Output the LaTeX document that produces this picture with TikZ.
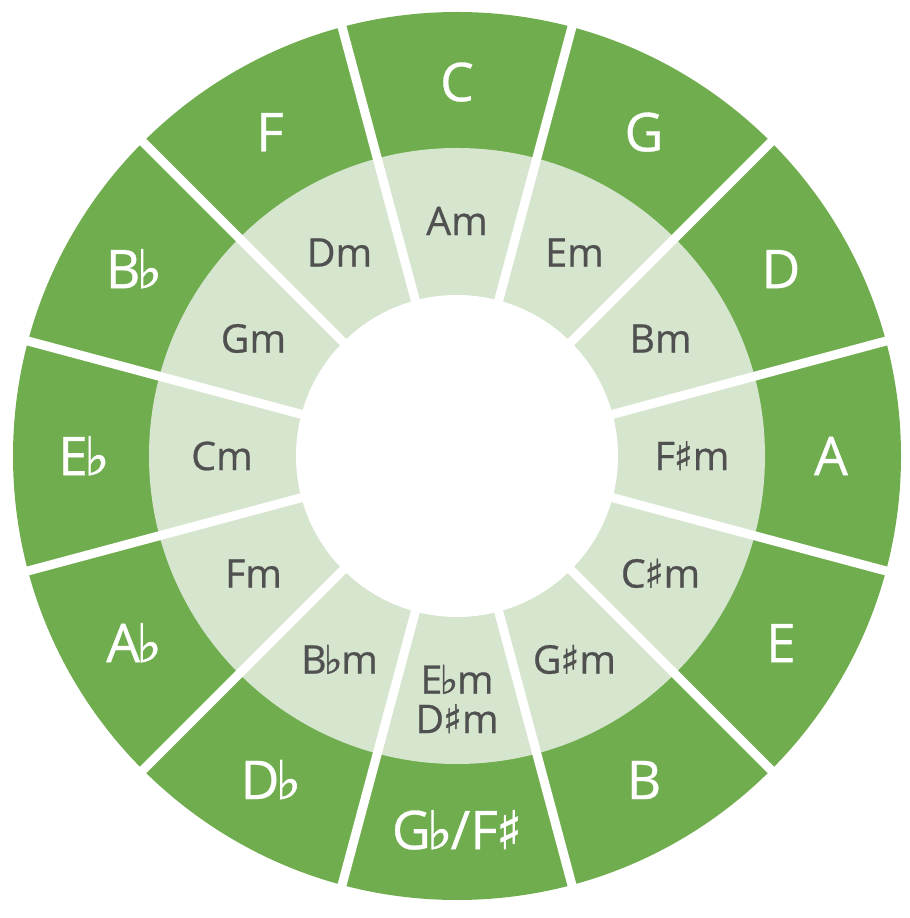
\documentclass[tikz,border=0pt]{standalone}
\usepackage{fontspec}
\usetikzlibrary{calc}
\setmainfont{Open Sans}
\newfontfamily\semifont[FakeBold=0.6]{Open Sans}
\newfontfamily\symfont[FakeBold=1.2]{DejaVu Sans}
\newcommand{\fl}{\kern-0.07em{\symfont\char"266D}\kern-0.03em}
\newcommand{\shp}{\kern-0.03em{\symfont\char"266F}}
\definecolor{outergreen}{HTML}{70AD4F}
\definecolor{innergreen}{HTML}{D6E5CD}
\definecolor{labelgray}{HTML}{505050}
\tikzset{
  outerlabel/.style={text=white, font=\semifont\fontsize{15.2}{15.2}\selectfont, inner sep=0pt, text height=10.9pt, text depth=0pt},
  innerlabel/.style={text=labelgray, font=\semifont\fontsize{11.2}{11.2}\selectfont, inner sep=0pt, text height=8pt, text depth=0pt},
  separator/.style={white, line width=0.09cm}
}
\begin{document}
\begin{tikzpicture}
\useasboundingbox (0,0) rectangle (9.10,9.18);
\coordinate (c) at (4.57,4.62);
\fill[outergreen] (c) circle[radius=4.44];
\fill[innergreen] (c) circle[radius=3.08];
\fill[white] (c) circle[radius=1.61];
\foreach \i in {0,...,11}{
  \draw[separator] ($(c)+({105-30*\i}:1.5)$) -- ($(c)+({105-30*\i}:4.5)$);
}
\foreach \lab [count=\i from 0] in {C,G,D,A,E,B,{G\fl/F\shp},D\fl,A\fl,E\fl,B\fl,F}{
  \node[outerlabel] (o\i) at ($(c)+({90-30*\i}:3.74)$) {\lab};
}
\foreach \i/\lab in {0/Am,1/Em,2/Bm,3/F\shp m,4/C\shp m,5/G\shp m,7/B\fl m,8/Fm,9/Cm,10/Gm,11/Dm}{
  \node[innerlabel] (m\i) at ($(c)+({90-30*\i}:2.35)$) {\lab};
}
\node[text=labelgray, font=\semifont\fontsize{11.2}{11.2}\selectfont, inner sep=0pt, align=center] (m6) at ($(c)+(0,-2.43)$) {E\fl m\\D\shp m};
\end{tikzpicture}
\end{document}
